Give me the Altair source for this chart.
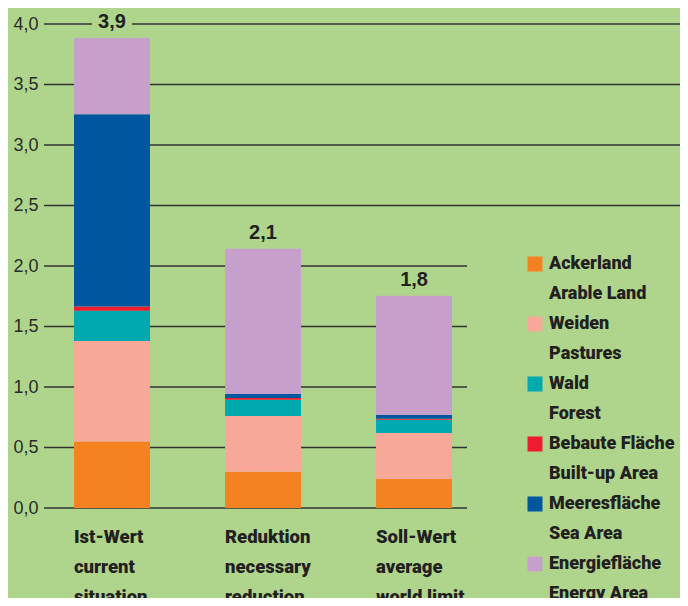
import altair as alt
import pandas as pd

# ---- data ----
categories = ["Ist-Wert\ncurrent\nsituation",
              "Reduktion\nnecessary\nreduction",
              "Soll-Wert\naverage\nworld limit"]
series = ["Ackerland|Arable Land", "Weiden|Pastures", "Wald|Forest",
          "Bebaute Fläche|Built-up Area", "Meeresfläche|Sea Area",
          "Energiefläche|Energy Area"]
colors = ["#f58220", "#f8a898", "#00a8b0", "#ed1c2e", "#0057a0", "#c6a0cb"]
ackerland = [0.55, 0.30, 0.24]
weiden = [0.83, 0.46, 0.38]
wald = [0.25, 0.135, 0.11]
bebaut = [0.035, 0.014, 0.008]
meer = [1.59, 0.033, 0.031]
energie = [0.63, 1.20, 0.985]
totals = [3.885, 2.142, 1.754]
total_labels = ["3,9", "2,1", "1,8"]
grid_values = [0.0, 0.5, 1.0, 1.5, 2.0, 2.5, 3.0, 3.5, 4.0]

BG = "#afd58c"
TXT = "#231f20"
FONT_B = "Roboto, DejaVu Sans Condensed, sans-serif"
FONT_R = "Liberation Sans, Arial, sans-serif"

rows = []
for s_i, (name, vals) in enumerate(zip(series, [ackerland, weiden, wald, bebaut, meer, energie])):
    for c, v in zip(categories, vals):
        rows.append({"cat": c, "series": name, "value": v, "ord": s_i})
df = pd.DataFrame(rows)
tot_df = pd.DataFrame({"cat": categories, "total": totals, "label": total_labels})
grid_df = pd.DataFrame({"v": grid_values})

W, H = 423, 484
xscale = alt.Scale(domain=categories, paddingInner=0.497, paddingOuter=0.149, align=0.667)
yscale = alt.Scale(domain=[0, 4], nice=False)

grid_low = alt.Chart(grid_df).transform_filter("datum.v <= 2.0").mark_rule(
    color="#333333", strokeWidth=1.4
).encode(
    y=alt.Y("v:Q", scale=yscale, axis=alt.Axis(
        values=grid_values, labelExpr="replace(format(datum.value, '.1f'), '.', ',')",
        labelFont=FONT_R, labelFontSize=18, labelColor="#2b2b2b",
        domain=False, ticks=False, grid=False, labelPadding=6, title=None)),
    x=alt.value(0), x2=alt.value(W),
)
grid_high = alt.Chart(grid_df).transform_filter("datum.v > 2.0").mark_rule(
    color="#333333", strokeWidth=1.4
).encode(
    y=alt.Y("v:Q", scale=yscale),
    x=alt.value(0), x2=alt.value(W + 221),
)

box = alt.Chart(tot_df).mark_point(
    shape="M-2,-0.75H2V0.75H-2Z", filled=True, color=BG, opacity=1, size=400, yOffset=-16
).encode(
    x=alt.X("cat:N", scale=xscale),
    y=alt.Y("total:Q", scale=yscale),
)

bars = alt.Chart(df).mark_bar(strokeWidth=0).encode(
    x=alt.X("cat:N", scale=xscale, sort=categories, axis=alt.Axis(
        labelExpr="split(datum.label, '\\n')", labelAngle=0, labelAlign="left",
        labelOffset=-38, labelBaseline="top", labelPadding=19, labelLineHeight=30,
        labelFont=FONT_B, labelFontSize=18.5, labelFontWeight=900, labelColor=TXT,
        domain=False, ticks=False, title=None, labelOverlap=False, labelBound=False)),
    y=alt.Y("value:Q", scale=yscale, stack="zero"),
    color=alt.Color("series:N", scale=alt.Scale(domain=series, range=colors),
                    legend=alt.Legend(
                        title=None, orient="none", legendX=482, legendY=231,
                        symbolType="square", symbolSize=225,
                        symbolStrokeWidth=0, symbolOpacity=1,
                        labelExpr="split(datum.label, '|')",
                        labelFont=FONT_B, labelFontSize=18, labelFontWeight=900,
                        labelColor=TXT, labelOffset=5, rowPadding=12, padding=0,
                        labelLimit=300)),
    order=alt.Order("ord:Q", sort="ascending"),
)

text = alt.Chart(tot_df).mark_text(
    baseline="middle", dy=-16, font=FONT_R, fontSize=20, fontWeight="bold", color=TXT
).encode(
    x=alt.X("cat:N", scale=xscale),
    y=alt.Y("total:Q", scale=yscale),
    text="label:N",
)

chart = alt.layer(grid_low, grid_high, box, bars, text).properties(
    width=W, height=H,
    autosize=alt.AutoSizeParams(type="none"),
    padding={"left": 36, "top": 16, "right": 213, "bottom": 90},
    background=BG,
).configure(
    style={"guide-label": {"lineHeight": 30}}
).configure_view(
    strokeWidth=0, stroke="transparent"
).configure_axis(
    grid=False, domain=False, ticks=False
)

chart.save("out.html", embed_options={"renderer": "svg", "actions": False})
